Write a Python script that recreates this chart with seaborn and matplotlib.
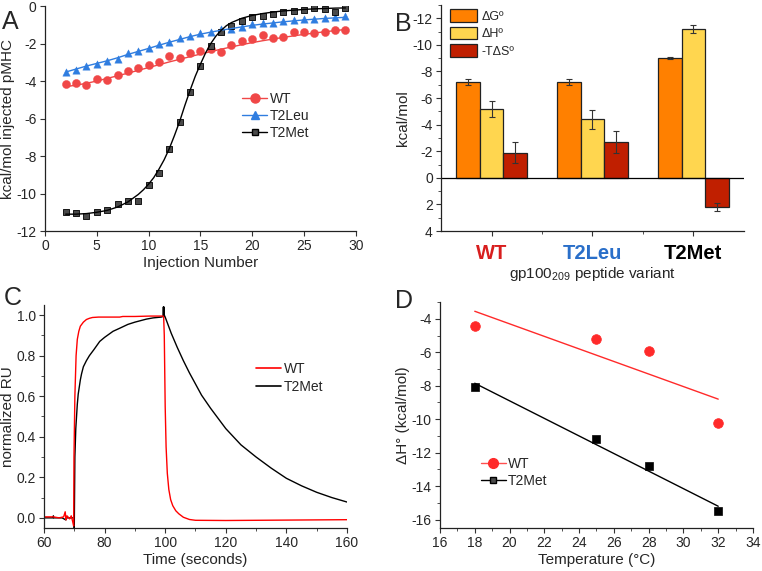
import numpy as np
import pandas as pd
import matplotlib
matplotlib.use("Agg")
import matplotlib.pyplot as plt
import seaborn as sns
from matplotlib.lines import Line2D
from matplotlib.patches import Patch
from matplotlib.ticker import AutoMinorLocator, MultipleLocator, FixedLocator

sns.set_style("ticks")
plt.rcParams['font.family'] = ['Liberation Sans', 'DejaVu Sans']
plt.rcParams['axes.unicode_minus'] = False
plt.rcParams['mathtext.fontset'] = 'custom'
plt.rcParams['mathtext.rm'] = 'Liberation Sans'
plt.rcParams['xtick.direction'] = 'out'
plt.rcParams['ytick.direction'] = 'out'

# ---- Panel A: ITC isotherms ----
inj = list(range(2, 30))
wt_itc = [-4.15, -4.1, -4.2, -3.9, -3.95, -3.7, -3.45, -3.3, -3.15, -3.0, -2.65, -2.75, -2.5, -2.4,
          -2.3, -2.45, -2.1, -1.85, -1.75, -1.55, -1.7, -1.65, -1.4, -1.4, -1.45, -1.4, -1.3, -1.3]
leu_itc = [-3.5, -3.4, -3.2, -3.1, -2.95, -2.8, -2.5, -2.4, -2.25, -2.05, -1.9, -1.7, -1.6, -1.45,
           -1.4, -1.25, -1.2, -1.1, -0.95, -0.9, -0.9, -0.8, -0.75, -0.7, -0.7, -0.65, -0.6, -0.55]
met_itc = [-11.0, -11.05, -11.2, -11.0, -10.9, -10.55, -10.4, -10.4, -9.55, -8.9, -7.6, -6.2, -4.6, -3.2,
           -2.15, -1.4, -1.05, -0.8, -0.6, -0.55, -0.45, -0.3, -0.25, -0.2, -0.1, -0.15, -0.3, -0.1]

wt_fit = [-4.3, -4.22, -4.12, -4.0, -3.86, -3.72, -3.58, -3.43, -3.28, -3.13, -2.98, -2.84, -2.7, -2.56,
          -2.43, -2.3, -2.18, -2.06, -1.95, -1.85, -1.76, -1.67, -1.59, -1.51, -1.44, -1.37, -1.31, -1.25]
leu_fit = [-3.52, -3.36, -3.2, -3.06, -2.92, -2.76, -2.58, -2.42, -2.26, -2.09, -1.93, -1.78, -1.63, -1.5,
           -1.39, -1.29, -1.2, -1.11, -1.03, -0.96, -0.9, -0.84, -0.79, -0.74, -0.7, -0.66, -0.63, -0.6]
met_fit_x = [2, 3, 4, 5, 6, 7, 8, 9, 9.5, 10, 10.5, 11, 11.5, 12, 12.5, 13, 13.5, 14, 14.5, 15, 15.5,
             16, 16.5, 17, 17.5, 18, 19, 20, 21, 22, 23, 24, 25, 26, 27, 28, 29]
met_fit = [-11.1, -11.1, -11.07, -11.0, -10.9, -10.72, -10.45, -10.05, -9.8, -9.5, -9.15, -8.7, -8.2,
           -7.6, -6.9, -6.15, -5.3, -4.5, -3.75, -3.1, -2.5, -2.0, -1.6, -1.3, -1.05, -0.88, -0.65,
           -0.5, -0.4, -0.32, -0.26, -0.22, -0.18, -0.15, -0.13, -0.11, -0.1]

# ---- Panel B: thermodynamic parameters ----
variants = ['WT', 'T2Leu', 'T2Met']
components = ['ΔGº', 'ΔHº', '-TΔSº']
dG = [-7.2, -7.2, -9.0]
dG_err = [0.2, 0.2, 0.05]
dH = [-5.2, -4.4, -11.2]
dH_err = [0.6, 0.7, 0.3]
TdS = [-1.9, -2.7, 2.2]
TdS_err = [0.8, 0.8, 0.3]

# ---- Panel C: SPR traces ----
wt_t = [60, 63, 65, 66.5, 67, 67.3, 67.6, 68.5, 69, 69.5, 69.8, 69.9, 70.2, 70.6, 71.0, 71.5, 72, 73,
        74, 75, 76, 78, 80, 85, 86, 90, 95, 99.3, 99.5, 99.7, 100.0, 100.3, 100.7, 101.2, 101.8, 102.5,
        103.5, 104.5, 106, 108, 110, 120, 130, 140, 150, 160]
wt_ru = [0.005, 0.005, 0.0, 0.005, 0.03, -0.01, 0.01, -0.005, 0.01, -0.02, -0.04, 0.3, 0.6, 0.8, 0.88,
         0.92, 0.945, 0.965, 0.978, 0.984, 0.988, 0.99, 0.99, 0.99, 0.993, 0.993, 0.995, 0.995, 0.99,
         0.9, 0.55, 0.35, 0.22, 0.14, 0.09, 0.06, 0.035, 0.02, 0.003, -0.008, -0.012, -0.013, -0.012,
         -0.011, -0.01, -0.009]
met_t = [60, 63, 63.1, 63.2, 66, 67.2, 67.4, 69, 69.8, 70.0, 70.2, 70.5, 71, 71.3, 72, 72.4, 73, 74, 75,
         76.5, 78.4, 80, 82.8, 85, 87.7, 90, 93.8, 96, 98.7, 99.3, 99.4, 99.5, 99.6, 99.7, 100, 102, 104,
         106, 108, 110, 112, 115, 120, 125, 130, 135, 140, 145, 150, 155, 160]
met_ru = [0.0, 0.0, 0.01, 0.0, 0.0, -0.01, 0.0, 0.0, 0.0, -0.05, 0.3, 0.44, 0.56, 0.61, 0.68, 0.71, 0.745,
          0.775, 0.8, 0.83, 0.87, 0.89, 0.92, 0.935, 0.954, 0.965, 0.98, 0.986, 0.99, 0.993, 1.04, 0.99,
          1.04, 1.0, 0.99, 0.91, 0.84, 0.775, 0.715, 0.66, 0.605, 0.54, 0.44, 0.36, 0.3, 0.245, 0.195,
          0.158, 0.126, 0.1, 0.078]

# ---- Panel D: dH vs temperature ----
temps = [18, 25, 28, 32]
wt_dH = [-4.45, -5.2, -5.95, -10.25]
met_dH = [-8.05, -11.2, -12.8, -15.5]
fit_t = [18, 32]
wt_dH_fit = [-3.55, -8.8]
met_dH_fit = [-7.85, -15.2]

red_a = '#f04747'
blue_a = '#2f7de0'
gray_sq = '#4a4a4a'

fig = plt.figure(figsize=(7.62, 5.71), dpi=100)
axA = fig.add_axes([0.059, 0.5954, 0.408, 0.394])
axB = fig.add_axes([0.579, 0.5954, 0.397, 0.396])
axC = fig.add_axes([0.0577, 0.0753, 0.3977, 0.3907])
axD = fig.add_axes([0.5774, 0.0753, 0.4108, 0.3957])

tick_fs = 10
label_fs = 11

for ax in (axA, axB, axC, axD):
    sns.despine(ax=ax)
    ax.tick_params(labelsize=tick_fs, length=3.5, width=0.8, color='#333333', pad=2.5)
    ax.tick_params(which='minor', length=2, width=0.6, color='#333333')
    for s in ('left', 'bottom'):
        ax.spines[s].set_linewidth(0.9)
        ax.spines[s].set_color('#222222')

# Panel A
sns.lineplot(x=inj, y=wt_fit, ax=axA, color=red_a, lw=1.0)
sns.lineplot(x=inj, y=leu_fit, ax=axA, color=blue_a, lw=1.0)
sns.lineplot(x=met_fit_x, y=met_fit, ax=axA, color='black', lw=1.0)
sns.scatterplot(x=inj, y=wt_itc, ax=axA, color=red_a, marker='o', s=34, edgecolor=red_a, linewidth=0.3)
sns.scatterplot(x=inj, y=leu_itc, ax=axA, color=blue_a, marker='^', s=28, edgecolor=blue_a, linewidth=0.3)
sns.scatterplot(x=inj, y=met_itc, ax=axA, color=gray_sq, marker='s', s=20, edgecolor='black', linewidth=0.6)
axA.set_xlim(0, 30)
axA.set_ylim(-12, 0)
axA.xaxis.set_major_locator(MultipleLocator(5))
axA.yaxis.set_major_locator(MultipleLocator(2))
axA.set_xlabel('Injection Number', fontsize=label_fs, labelpad=2)
axA.set_ylabel('kcal/mol injected pMHC', fontsize=label_fs, labelpad=1)
handlesA = [Line2D([], [], color=red_a, marker='o', ms=6.5, lw=1.0),
            Line2D([], [], color=blue_a, marker='^', ms=6, lw=1.0),
            Line2D([], [], color='black', marker='s', ms=4.5, mfc=gray_sq, lw=1.0)]
axA.legend(handlesA, ['WT', 'T2Leu', 'T2Met'], loc='upper left', bbox_to_anchor=(0.595, 0.675),
           frameon=False, fontsize=10, handlelength=1.8, handletextpad=0.15, labelspacing=0.22)

# Panel B
dfB = pd.DataFrame({
    'variant': variants * 3,
    'component': [components[0]] * 3 + [components[1]] * 3 + [components[2]] * 3,
    'value': dG + dH + TdS,
})
errs = [dG_err, dH_err, TdS_err]
pal = {'ΔGº': '#ff8000', 'ΔHº': '#ffd64f', '-TΔSº': '#c01f00'}
sns.barplot(data=dfB, x='variant', y='value', hue='component', palette=pal, ax=axB, saturation=1,
            width=0.7, gap=0, errorbar=None, edgecolor='#222222', linewidth=0.9, legend=False)
for cont, err in zip(axB.containers, errs):
    xs = [b.get_x() + b.get_width() / 2 for b in cont]
    vals = [b.get_y() + b.get_height() for b in cont]
    axB.errorbar(xs, vals, yerr=err, fmt='none', ecolor='#333333',
                 elinewidth=0.8, capsize=2.5, capthick=0.8)
axB.axhline(0, color='black', lw=0.9)
axB.set_ylim(4, -13)
axB.yaxis.set_major_locator(FixedLocator([-12, -10, -8, -6, -4, -2, 0, 2, 4]))
axB.yaxis.set_minor_locator(FixedLocator([-13, -11, -9, -7, -5, -3, -1, 1, 3]))
axB.xaxis.set_minor_locator(FixedLocator([0.5, 1.5]))
axB.set_xlim(-0.5, 2.5)
axB.set_ylabel('kcal/mol', fontsize=label_fs, labelpad=2)
axB.set_xlabel('gp100$_{\\mathregular{209}}$ peptide variant', fontsize=label_fs, labelpad=1)
tick_cols = ['#d81e1e', '#2a6fc9', 'black']
for lab, c in zip(axB.get_xticklabels(), tick_cols):
    lab.set_color(c)
    lab.set_fontweight('bold')
    lab.set_fontsize(14.5)
axB.tick_params(axis='x', pad=6)
handlesB = [Patch(facecolor=pal[c], edgecolor='#222222', linewidth=0.9) for c in components]
axB.legend(handlesB, components, loc='upper left', bbox_to_anchor=(0.0, 1.02), frameon=False,
           fontsize=9, handlelength=2.2, handleheight=1.2, handletextpad=0.3, labelspacing=0.3,
           borderaxespad=0.3)

# Panel C
sns.lineplot(x=met_t, y=met_ru, ax=axC, color='black', lw=1.0, estimator=None, sort=False)
sns.lineplot(x=wt_t, y=wt_ru, ax=axC, color='#ff0000', lw=1.0, estimator=None, sort=False)
axC.set_xlim(60, 160)
axC.set_ylim(-0.05, 1.05)
axC.xaxis.set_major_locator(MultipleLocator(20))
axC.xaxis.set_minor_locator(AutoMinorLocator(2))
axC.yaxis.set_major_locator(MultipleLocator(0.2))
axC.yaxis.set_minor_locator(AutoMinorLocator(2))
axC.yaxis.set_major_formatter(matplotlib.ticker.FormatStrFormatter('%.1f'))
axC.set_xlabel('Time (seconds)', fontsize=label_fs, labelpad=2)
axC.set_ylabel('normalized RU', fontsize=label_fs, labelpad=1)
handlesC = [Line2D([], [], color='#ff0000', lw=1.2), Line2D([], [], color='black', lw=1.2)]
axC.legend(handlesC, ['WT', 'T2Met'], loc='upper left', bbox_to_anchor=(0.66, 0.80), frameon=False,
           fontsize=10, handlelength=1.8, handletextpad=0.15, labelspacing=0.3)

# Panel D
red_d = '#ff2a2a'
sns.lineplot(x=fit_t, y=wt_dH_fit, ax=axD, color=red_d, lw=1.0)
sns.lineplot(x=fit_t, y=met_dH_fit, ax=axD, color='black', lw=1.0)
sns.scatterplot(x=temps, y=wt_dH, ax=axD, color=red_d, marker='o', s=48, edgecolor=red_d)
sns.scatterplot(x=temps, y=met_dH, ax=axD, color='black', marker='s', s=36, edgecolor='black')
axD.set_xlim(16, 34)
axD.set_ylim(-16.5, -3)
axD.xaxis.set_major_locator(MultipleLocator(2))
axD.xaxis.set_minor_locator(AutoMinorLocator(2))
axD.yaxis.set_major_locator(FixedLocator([-16, -14, -12, -10, -8, -6, -4]))
axD.yaxis.set_minor_locator(FixedLocator([-15, -13, -11, -9, -7, -5, -3]))
axD.set_xlabel('Temperature (°C)', fontsize=label_fs, labelpad=2)
axD.set_ylabel('ΔH° (kcal/mol)', fontsize=label_fs, labelpad=1)
handlesD = [Line2D([], [], color='#ff5050', marker='o', ms=7, mfc=red_d, mec=red_d, lw=1.0),
            Line2D([], [], color='black', marker='s', ms=5, mfc=gray_sq, mec='black', lw=1.0)]
axD.legend(handlesD, ['WT', 'T2Met'], loc='upper left', bbox_to_anchor=(0.09, 0.37), frameon=False,
           fontsize=10, handlelength=1.8, handletextpad=0.15, labelspacing=0.2)

# panel letters
for letter, x, y in [('A', 0.003, 0.962), ('B', 0.519, 0.958), ('C', 0.005, 0.478), ('D', 0.519, 0.472)]:
    fig.text(x, y, letter, fontsize=18, ha='left', va='center')

fig.savefig('out.png', dpi=100)
